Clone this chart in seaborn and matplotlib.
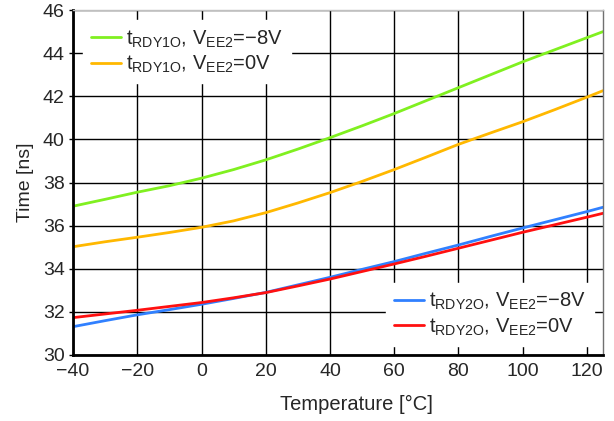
import numpy as np
import pandas as pd
import seaborn as sns
import matplotlib.pyplot as plt

# temperatures (°C) where values were read
temps = [-40, -30, -20, -10, 0, 10, 20, 30, 40, 50, 60, 70, 80, 90, 100, 110, 120, 125]

rdy1_m8 = [36.9, 37.22, 37.55, 37.85, 38.2, 38.6, 39.05, 39.55, 40.08, 40.63, 41.2, 41.8, 42.4, 43.0, 43.6, 44.16, 44.72, 45.0]
rdy1_0 = [35.02, 35.25, 35.46, 35.68, 35.92, 36.22, 36.6, 37.05, 37.53, 38.05, 38.6, 39.18, 39.77, 40.3, 40.82, 41.38, 41.96, 42.26]
rdy2_m8 = [31.31, 31.59, 31.86, 32.1, 32.35, 32.62, 32.9, 33.25, 33.6, 33.97, 34.33, 34.72, 35.1, 35.5, 35.89, 36.27, 36.65, 36.85]
rdy2_0 = [31.73, 31.9, 32.07, 32.25, 32.43, 32.65, 32.89, 33.2, 33.52, 33.87, 34.22, 34.58, 34.95, 35.32, 35.69, 36.04, 36.39, 36.57]

labels = [
    r'$\mathregular{t_{RDY1O}}$, $\mathregular{V_{EE2}}$=−8V',
    r'$\mathregular{t_{RDY1O}}$, $\mathregular{V_{EE2}}$=0V',
    r'$\mathregular{t_{RDY2O}}$, $\mathregular{V_{EE2}}$=−8V',
    r'$\mathregular{t_{RDY2O}}$, $\mathregular{V_{EE2}}$=0V',
]
colors = ['#80f020', '#ffb800', '#3080ff', '#ff1010']
series = [rdy1_m8, rdy1_0, rdy2_m8, rdy2_0]

sns.set_style('white')
plt.rcParams['font.family'] = ['Liberation Sans', 'DejaVu Sans']
plt.rcParams['mathtext.fontset'] = 'custom'
plt.rcParams['mathtext.rm'] = 'Liberation Sans'

fig = plt.figure(figsize=(6.14, 4.21), dpi=100)
ax = fig.add_axes([0.119, 0.157, 0.863, 0.819])

for vals, lab, col in zip(series, labels, colors):
    df = pd.DataFrame({'T': temps, 'v': vals})
    sns.lineplot(x='T', y='v', data=df, ax=ax, color=col, linewidth=2, label=lab)

ax.set_xlim(-40, 125)
ax.set_ylim(30, 46)
ax.set_xticks([-40, -20, 0, 20, 40, 60, 80, 100, 120])
ax.set_xticklabels(['−40', '−20', '0', '20', '40', '60', '80', '100', '120'])
ax.set_yticks(range(30, 47, 2))
ax.grid(True, color='black', linewidth=1)
ax.set_axisbelow(True)
ax.tick_params(labelsize=14, length=3, width=1, color='black', pad=3, direction='out', left=True, bottom=False)

for s in ['left', 'bottom']:
    ax.spines[s].set_color('black')
    ax.spines[s].set_linewidth(2)
ax.spines['top'].set_color('#c0c0c0')
ax.spines['top'].set_linewidth(1)
ax.spines['right'].set_color('#707070')
ax.spines['right'].set_linewidth(1)

ax.set_xlabel('Temperature [°C]', fontsize=14.5)
ax.xaxis.set_label_coords(0.535, -0.115)
ax.set_ylabel('Time [ns]', fontsize=14, labelpad=6)

legend_kw = dict(fontsize=14.5, frameon=True, fancybox=False, framealpha=1,
                 edgecolor='white', handlelength=1.5, handletextpad=0.25,
                 labelspacing=0.2, borderpad=0.4)
h, l = ax.get_legend_handles_labels()
leg1 = ax.legend(h[:2], l[:2], loc='upper left', borderaxespad=0.5, **legend_kw)
ax.add_artist(leg1)
ax.legend(h[2:], l[2:], loc='lower right', borderaxespad=0.45, **legend_kw)

plt.savefig('out.png', dpi=100)
plt.close()
